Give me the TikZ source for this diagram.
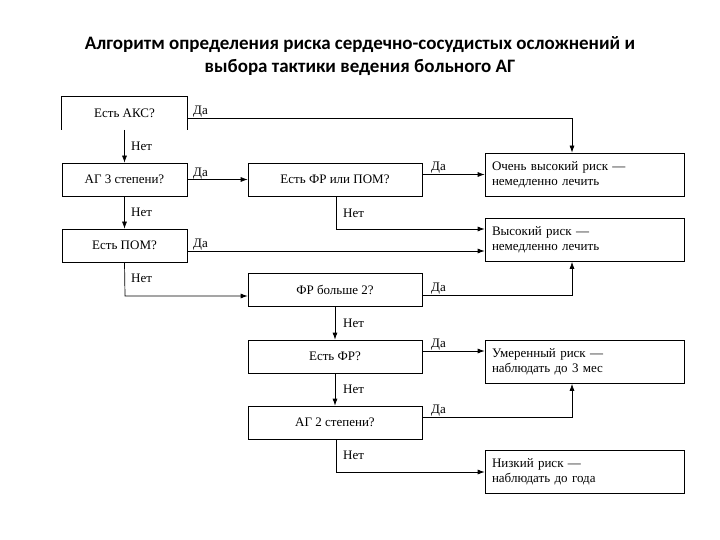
\documentclass[tikz,border=0pt]{standalone}
\usepackage{fontspec}
\setmainfont{Liberation Serif}
\newfontfamily\titlefont{Carlito}
\usetikzlibrary{arrows.meta}
\begin{document}
\begin{tikzpicture}[x=1pt,y=-1pt,
  box/.style={draw,line width=0.7pt,inner sep=0pt,font=\fontsize{13}{15}\selectfont},
  q/.style={box,minimum width=125pt,minimum height=33pt},
  qq/.style={box,minimum width=174pt,minimum height=33pt},
  res/.style={box,minimum width=199pt,minimum height=43pt,align=left,text width=185pt},
  lab/.style={font=\fontsize{13}{15}\selectfont,anchor=south west,inner sep=1pt},
  arr/.style={line width=0.7pt,-{Latex[length=7pt,width=5pt]}},
  ln/.style={line width=0.7pt}]
\useasboundingbox (0,0) rectangle (720,540);
\node[font=\titlefont\bfseries\fontsize{19}{23}\selectfont,align=center] (title) at (360,56)
  {Алгоритм определения риска сердечно-сосудистых осложнений и\\выбора тактики ведения больного АГ};
\node[q,draw=none] (A) at (124.5,113) {Есть АКС?};
\draw[ln] (A.south west) -- (A.north west) -- (A.north east) -- (A.south east);
\node[q] (B) at (124.5,179.5) {АГ 3 степени?};
\node[q] (C) at (124.5,245.5) {Есть ПОМ?};
\node[qq] (D) at (335,179.5) {Есть ФР или ПОМ?};
\node[qq] (E) at (335,289.5) {ФР больше 2?};
\node[qq] (F) at (335,356.5) {Есть ФР?};
\node[qq] (G) at (335,422.5) {АГ 2 степени?};
\node[res] (R1) at (584.5,174.5) {Очень высокий риск —\\немедленно лечить};
\node[res] (R2) at (584.5,240) {Высокий риск —\\немедленно лечить};
\node[res] (R3) at (584.5,362) {Умеренный риск —\\наблюдать до 3 мес};
\node[res] (R4) at (584.5,472) {Низкий риск —\\наблюдать до года};
\coordinate (a1) at (572,118);
\coordinate (c1) at (125,296);
\coordinate (d1) at (336,229);
\coordinate (e1) at (572,295);
\coordinate (g1) at (572,417);
\coordinate (g2) at (336,472);
% A
\draw[arr] (A.east|-a1) -- (a1) -- (R1.north-|a1);
\node[lab] at (192,118) {Да};
\draw[arr] (A.south) -- (B.north);
\node[lab] at (130,152) {Нет};
% B
\draw[arr] (B.east) -- (D.west);
\node[lab] at (192,180) {Да};
\draw[arr] (B.south) -- (C.north);
\node[lab] at (130,218) {Нет};
% C
\draw[arr] (C.east|-0,251) -- (R2.west|-0,251);
\node[lab] at (192,251) {Да};
\draw[arr] (C.south) -- (c1) -- (E.west|-c1);
\node[lab] at (130,284) {Нет};
% D
\draw[arr] (D.east|-R1) -- (R1.west);
\node[lab] at (430,174) {Да};
\draw[arr] (D.south-|d1) -- (d1) -- (R2.west|-d1);
\node[lab] at (342,219) {Нет};
% E
\draw[arr] (E.east|-e1) -- (e1) -- (R2.south-|e1);
\node[lab] at (430,295) {Да};
\draw[arr] (E.south-|F.north) -- (F.north);
\node[lab] at (342,329) {Нет};
% F
\draw[arr] (F.east|-0,351) -- (R3.west|-0,351);
\node[lab] at (430,351) {Да};
\draw[arr] (F.south) -- (G.north);
\node[lab] at (342,395) {Нет};
% G
\draw[arr] (G.east|-g1) -- (g1) -- (R3.south-|g1);
\node[lab] at (430,417) {Да};
\draw[arr] (G.south-|g2) -- (g2) -- (R4.west|-g2);
\node[lab] at (342,461) {Нет};
\end{tikzpicture}
\end{document}
